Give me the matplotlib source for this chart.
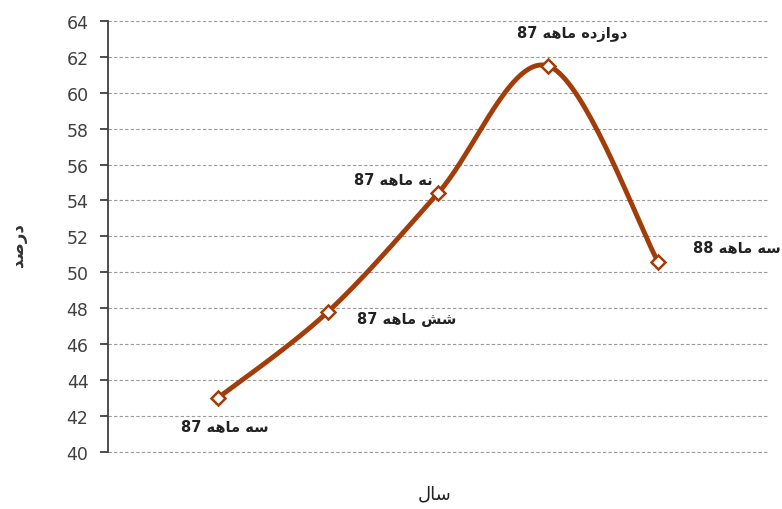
import re
import numpy as np
import matplotlib
matplotlib.use("Agg")
import matplotlib.pyplot as plt

# داده ها
dorehha = ["سه ماهه 87", "شش ماهه 87", "نه ماهه 87", "دوازده ماهه 87", "سه ماهه 88"]
darsad = [43.0, 47.8, 54.4, 61.5, 50.6]
y_ticks = list(range(40, 65, 2))
barchasb_y = "درصد"
barchasb_x = "سال"

# فرم های نمایشی حروف عربی: (جدا، پایانی، آغازی، میانی)
FORMS = {
    "ا": ("\uFE8D", "\uFE8E", None, None),
    "د": ("\uFEA9", "\uFEAA", None, None),
    "ر": ("\uFEAD", "\uFEAE", None, None),
    "ز": ("\uFEAF", "\uFEB0", None, None),
    "و": ("\uFEED", "\uFEEE", None, None),
    "س": ("\uFEB1", "\uFEB2", "\uFEB3", "\uFEB4"),
    "ش": ("\uFEB5", "\uFEB6", "\uFEB7", "\uFEB8"),
    "ص": ("\uFEB9", "\uFEBA", "\uFEBB", "\uFEBC"),
    "ل": ("\uFEDD", "\uFEDE", "\uFEDF", "\uFEE0"),
    "م": ("\uFEE1", "\uFEE2", "\uFEE3", "\uFEE4"),
    "ن": ("\uFEE5", "\uFEE6", "\uFEE7", "\uFEE8"),
    "ه": ("\uFEE9", "\uFEEA", "\uFEEB", "\uFEEC"),
}


def joins_left(c):
    return c in FORMS and FORMS[c][2] is not None


def shape(text):
    out = []
    for i, c in enumerate(text):
        if c not in FORMS:
            out.append(c)
            continue
        prev = text[i - 1] if i > 0 else ""
        nxt = text[i + 1] if i + 1 < len(text) else ""
        a = joins_left(prev)
        b = joins_left(c) and nxt in FORMS
        iso, fin, ini, med = FORMS[c]
        if a and b:
            out.append(med)
        elif a:
            out.append(fin)
        elif b:
            out.append(ini)
        else:
            out.append(iso)
    vis = "".join(out)[::-1]
    # اعداد را دوباره به ترتیب چپ به راست برگردان
    return re.sub(r"[0-9]+", lambda m: m.group(0)[::-1], vis)


def smooth(x, y, n=40):
    # منحنی نرم به سبک اکسل (بزیه با نقاط کنترل کتمول-رام)
    x = np.asarray(x, float)
    y = np.asarray(y, float)
    px = np.concatenate([[x[0]], x, [x[-1]]])
    py = np.concatenate([[y[0]], y, [y[-1]]])
    xs, ys = [], []
    t = np.linspace(0, 1, n)
    for i in range(1, len(px) - 2):
        p0 = np.array([px[i], py[i]])
        p3 = np.array([px[i + 1], py[i + 1]])
        p1 = p0 + (np.array([px[i + 1], py[i + 1]]) - np.array([px[i - 1], py[i - 1]])) / 6
        p2 = p3 - (np.array([px[i + 2], py[i + 2]]) - np.array([px[i], py[i]])) / 6
        for tt in t:
            pt = (1 - tt) ** 3 * p0 + 3 * (1 - tt) ** 2 * tt * p1 + 3 * (1 - tt) * tt ** 2 * p2 + tt ** 3 * p3
            xs.append(pt[0])
            ys.append(pt[1])
    return xs, ys


rang = "#a23c08"
x = np.arange(1, len(darsad) + 1)

fig = plt.figure(figsize=(7.82, 5.10), dpi=100)
ax = fig.add_axes([0.138, 0.112, 0.844, 0.845])

sx, sy = smooth(x, darsad)
ax.plot(sx, sy, color=rang, lw=3.5, solid_capstyle="round", zorder=3)
ax.plot(x, darsad, ls="none", marker="D", markersize=7, markerfacecolor="white",
        markeredgecolor=rang, markeredgewidth=1.8, zorder=4)

ax.set_xlim(0, 6)
ax.set_ylim(40, 64)
ax.set_yticks(y_ticks)
ax.set_xticks([])
ax.yaxis.grid(True, linestyle=(0, (3, 2)), color="#9a9a9a", linewidth=0.8)
for g in ax.get_ygridlines():
    g.set_clip_on(False)
ax.set_axisbelow(True)
for s in ["top", "right", "bottom"]:
    ax.spines[s].set_visible(False)
ax.spines["left"].set_color("#404040")
ax.spines["left"].set_linewidth(1.3)
ax.tick_params(axis="y", length=6, width=1.3, color="#404040", labelsize=12.5,
               labelcolor="#404040", pad=8)

# برچسب نقاط
offsets = [(7, -28, "center"), (29, -7, "left"), (-5, 15, "right"), (24, 33, "center"), (35, 15, "left")]
for xi, yi, lab, (dx, dy, ha) in zip(x, darsad, dorehha, offsets):
    ax.annotate(shape(lab), (xi, yi), xytext=(dx, dy), textcoords="offset pixels",
                ha=ha, va="center", fontsize=10.5, fontweight="bold", color="#222222",
                family="DejaVu Sans", annotation_clip=False)

fig.text(0.023, 0.52, shape(barchasb_y), rotation=90, ha="center", va="center",
         fontsize=12, fontweight="bold", color="#333333", family="DejaVu Sans")
fig.text(0.556, 0.03, shape(barchasb_x), ha="center", va="center",
         fontsize=13, color="#222222", family="DejaVu Sans")

fig.savefig("out.png", dpi=100)
